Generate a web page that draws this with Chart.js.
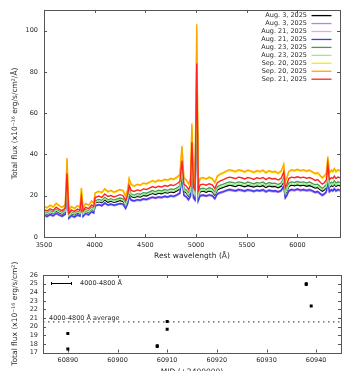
<!DOCTYPE html>
<html>
<head>
<meta charset="utf-8">
<script src="https://cdn.jsdelivr.net/npm/chart.js@4.4.1/dist/chart.umd.min.js"></script>
<style>
  html, body { margin: 0; padding: 0; background: #fff; overflow: hidden; }
  #wrap { position: relative; width: 359px; height: 371px; overflow: hidden; }
  #spec { position: absolute; left: 0; top: 0; }
  #phot { position: absolute; left: 0; top: 262px; }
</style>
</head>
<body>
<div id="wrap">
  <canvas id="spec" width="359" height="262"></canvas>
  <canvas id="phot" width="359" height="120"></canvas>
</div>
<script>
// ---- spectra (rest wavelength in Angstrom, flux in 1e-16 erg/s/cm2/A) ----
const wavelength = [3500,3530,3560,3590,3620,3650,3680,3710,3727,3745, 3770,3800,3830,3855,3869,3885,3910,3940,3970,3990,
  4005,4040,4070,4100,4130,4160,4190,4220,4250,4280, 4305,4325,4340,4360,4390,4420,4450,4480,4510,4540,
  4570,4600,4630,4660,4690,4720,4750,4780,4810,4840, 4861,4880,4905,4925,4945,4959,4975,4990,5007,5022,
  5040,5070,5100,5130,5160,5185,5210,5240,5270,5300, 5330,5360,5390,5420,5450,5480,5510,5540,5570,5600,
  5630,5660,5690,5720,5750,5780,5810,5840,5865,5880, 5895,5915,5940,5970,6000,6030,6060,6090,6120,6150,
  6175,6200,6225,6245,6265,6285,6300,6315,6335,6350, 6364,6380,6400,6420];

const fluxAug3a = [11.6,10.9,11.9,11.2,12.6,11.7,11.1,12.2,27.0,10.0, 11.4,10.7,11.7,11.2,17.0,10.9,12.5,11.9,13.5,12.8,
  16.5,17.1,16.6,18.0,16.9,17.4,16.8,17.2,17.7,17.3, 15.2,17.7,21.6,19.6,19.1,19.7,19.4,20.2,19.9,20.5,
  21.1,20.6,21.3,20.9,21.6,21.3,21.9,21.6,22.3,23.3, 32.5,22.2,21.3,19.9,21.7,40.0,20.8,19.7,74.0,19.4,
  21.9,22.2,21.7,22.3,21.9,20.3,22.8,23.6,24.0,24.6, 25.1,24.8,24.5,25.1,24.8,24.3,24.9,24.6,24.2,24.8,
  24.5,24.9,24.0,24.8,24.3,24.5,23.9,24.6,27.0,20.8, 22.0,24.5,25.1,24.8,25.3,24.8,25.1,24.6,24.9,24.3,
  23.7,24.0,22.9,22.2,22.8,23.9,29.5,24.0,24.9,24.5, 25.6,24.5,25.1,24.8];
const fluxAug3b = [10.3,9.7,10.6,10.0,11.2,10.4,9.8,10.8,24.0,8.8, 10.1,9.4,10.4,9.9,15.0,9.7,11.1,10.5,12.0,11.4,
  14.8,15.4,14.9,16.1,15.2,15.6,15.1,15.5,15.9,15.6, 13.6,15.9,19.3,17.6,17.2,17.7,17.5,18.1,17.9,18.4,
  19.0,18.6,19.1,18.8,19.4,19.1,19.7,19.4,20.1,20.9, 29.0,20.0,19.1,17.8,19.5,36.0,18.7,17.7,66.0,17.4,
  19.7,20.0,19.6,20.1,19.7,18.3,20.5,21.2,21.6,22.2, 22.6,22.3,22.0,22.6,22.3,21.9,22.5,22.2,21.8,22.3,
  22.0,22.5,21.6,22.3,21.9,22.0,21.5,22.2,24.3,18.7, 19.8,22.0,22.6,22.3,22.8,22.3,22.6,22.2,22.5,21.9,
  21.3,21.6,20.6,19.9,20.5,21.5,26.8,21.6,22.5,22.0, 23.0,22.0,22.6,22.3];
const fluxAug21a = [10.7,10.2,11.1,10.4,11.7,10.9,10.3,11.3,25.0,9.3, 10.6,9.9,10.9,10.4,15.8,10.2,11.6,11.0,12.5,11.9,
  15.3,15.9,15.4,16.7,15.7,16.2,15.6,16.0,16.4,16.1, 14.2,16.4,20.0,18.2,17.7,18.3,18.0,18.7,18.4,19.0,
  19.6,19.2,19.7,19.4,20.0,19.7,20.3,20.0,20.7,21.6, 30.0,20.6,19.7,18.4,20.2,37.0,19.3,18.3,68.0,18.0,
  20.3,20.6,20.2,20.7,20.3,18.9,21.2,21.9,22.3,22.9, 23.3,23.0,22.7,23.3,23.0,22.6,23.2,22.9,22.5,23.0,
  22.7,23.2,22.3,23.0,22.6,22.7,22.2,22.9,25.0,19.3, 20.4,22.7,23.3,23.0,23.5,23.0,23.3,22.9,23.2,22.6,
  22.0,22.3,21.3,20.6,21.2,22.2,27.5,22.3,23.2,22.7, 23.7,22.7,23.3,23.0];
const fluxAug21b = [10.6,10.0,10.9,10.3,11.5,10.7,10.1,11.1,24.6,9.1, 10.4,9.7,10.7,10.2,15.5,10.0,11.4,10.8,12.3,11.7,
  15.1,15.7,15.2,16.5,15.5,16.0,15.4,15.8,16.2,15.9, 13.9,16.2,19.7,17.9,17.5,18.1,17.8,18.5,18.2,18.8,
  19.3,18.9,19.4,19.2,19.7,19.4,20.0,19.7,20.4,21.3, 29.5,20.3,19.4,18.1,19.9,36.5,19.0,18.0,67.0,17.7,
  20.0,20.3,19.9,20.4,20.0,18.6,20.9,21.6,22.0,22.6, 23.0,22.7,22.4,23.0,22.7,22.3,22.9,22.6,22.2,22.7,
  22.4,22.9,22.0,22.7,22.3,22.4,21.9,22.6,24.7,19.0, 20.1,22.4,23.0,22.7,23.2,22.7,23.0,22.6,22.9,22.3,
  21.7,22.0,21.0,20.3,20.9,21.9,27.2,22.0,22.9,22.4, 23.4,22.4,23.0,22.7];
const fluxAug23a = [12.3,11.6,12.7,12.0,13.4,12.5,11.8,13.0,28.0,10.7, 12.1,11.4,12.5,11.9,18.0,11.6,13.3,12.6,14.4,13.6,
  17.5,18.2,17.7,19.2,18.0,18.5,17.9,18.4,18.9,18.5, 16.2,18.9,23.0,20.8,20.3,21.0,20.7,21.5,21.2,21.8,
  22.5,22.0,22.6,22.3,23.0,22.6,23.3,23.0,23.8,24.8, 34.0,23.6,22.6,21.2,23.1,42.0,22.1,21.0,78.0,20.7,
  23.3,23.6,23.1,23.8,23.3,21.6,24.3,25.1,25.6,26.2, 26.7,26.4,26.1,26.7,26.4,25.9,26.6,26.2,25.7,26.4,
  26.1,26.6,25.6,26.4,25.9,26.1,25.4,26.2,28.6,22.1, 23.5,26.1,26.7,26.4,26.9,26.4,26.7,26.2,26.6,25.9,
  25.3,25.6,24.4,23.6,24.3,25.4,31.0,25.6,26.6,26.1, 27.2,26.1,26.7,26.4];
const fluxAug23b = [11.9,11.2,12.2,11.5,13.0,12.0,11.4,12.5,27.5,10.3, 11.7,11.0,12.0,11.5,17.4,11.2,12.8,12.2,13.8,13.1,
  16.9,17.5,17.1,18.5,17.4,17.9,17.2,17.7,18.2,17.8, 15.6,18.2,22.2,20.1,19.6,20.2,19.9,20.7,20.4,21.0,
  21.6,21.2,21.8,21.5,22.1,21.8,22.4,22.1,22.9,23.9, 33.0,22.8,21.8,20.4,22.3,41.0,21.3,20.2,76.0,19.9,
  22.4,22.8,22.3,22.9,22.4,20.9,23.4,24.2,24.6,25.3, 25.8,25.4,25.1,25.8,25.4,25.0,25.6,25.3,24.8,25.4,
  25.1,25.6,24.6,25.4,25.0,25.1,24.5,25.3,27.8,21.3, 22.6,25.1,25.8,25.4,25.9,25.4,25.8,25.3,25.6,25.0,
  24.3,24.6,23.5,22.8,23.4,24.5,30.2,24.6,25.6,25.1, 26.2,25.1,25.8,25.4];
const fluxSep20a = [14.8,14.0,15.2,14.4,16.1,15.0,14.2,15.6,37.5,12.8, 14.6,13.7,15.0,14.3,23.3,14.0,16.0,15.2,17.2,16.4,
  21.1,21.9,21.3,23.1,21.7,22.3,21.5,22.1,22.7,22.2, 19.5,22.7,28.0,25.1,24.5,25.3,24.9,25.9,25.5,26.3,
  27.0,26.5,27.2,26.9,27.6,27.3,28.0,27.7,28.6,29.8, 43.0,28.4,27.3,25.5,27.8,53.5,26.7,25.3,100.0,24.9,
  28.0,28.4,27.9,28.6,28.1,26.1,29.2,30.2,30.8,31.6, 32.2,31.8,31.4,32.2,31.8,31.2,32.0,31.6,31.0,31.8,
  31.4,32.0,30.8,31.8,31.2,31.4,30.6,31.6,34.7,26.7, 28.2,31.4,32.2,31.8,32.4,31.8,32.2,31.6,32.0,31.2,
  30.4,30.8,29.4,28.4,29.2,30.6,38.4,30.8,32.0,31.4, 32.8,31.4,32.2,31.8];
const fluxSep20b = [15.0,14.2,15.5,14.6,16.4,15.2,14.4,15.8,38.3,13.0, 14.8,13.9,15.2,14.5,23.8,14.2,16.2,15.4,17.5,16.6,
  21.4,22.2,21.6,23.4,22.0,22.6,21.8,22.4,23.0,22.5, 19.8,23.0,28.4,25.4,24.8,25.6,25.2,26.2,25.8,26.6,
  27.4,26.8,27.6,27.2,28.0,27.6,28.4,28.0,29.0,30.2, 44.0,28.8,27.6,25.8,28.2,55.0,27.0,25.6,103.0,25.2,
  28.4,28.8,28.2,29.0,28.4,26.4,29.6,30.6,31.2,32.0, 32.6,32.2,31.8,32.6,32.2,31.6,32.4,32.0,31.4,32.2,
  31.8,32.4,31.2,32.2,31.6,31.8,31.0,32.0,35.2,27.0, 28.6,31.8,32.6,32.2,32.8,32.2,32.6,32.0,32.4,31.6,
  30.8,31.2,29.8,28.8,29.6,31.0,39.0,31.2,32.4,31.8, 33.2,31.8,32.6,32.2];
const fluxSep21 = [13.2,12.6,13.7,12.9,14.4,13.4,12.8,14.0,30.8,11.5, 13.1,12.4,13.5,12.9,19.2,12.6,14.4,13.7,15.5,14.8,
  19.1,19.8,19.2,20.8,19.6,20.1,19.4,19.9,20.5,20.0, 17.6,20.5,25.0,22.6,22.1,22.8,22.4,23.3,23.0,23.7,
  24.4,23.9,24.6,24.2,24.9,24.6,25.3,24.9,25.8,26.9, 37.0,25.6,24.6,23.0,25.1,46.0,24.0,22.8,84.0,22.4,
  25.3,25.6,25.1,25.8,25.3,23.5,26.3,27.2,27.8,28.5, 29.0,28.7,28.3,29.0,28.7,28.1,28.8,28.5,27.9,28.7,
  28.3,28.8,27.8,28.7,28.1,28.3,27.6,28.5,31.5,24.0, 25.5,28.3,29.0,28.7,29.2,28.7,29.0,28.5,28.8,28.1,
  27.4,27.8,26.5,25.6,26.3,27.6,35.0,27.8,28.8,28.3, 29.5,28.3,29.0,28.7];

const specLabels = ['Aug. 3, 2025', 'Aug. 3, 2025', 'Aug. 21, 2025', 'Aug. 21, 2025', 'Aug. 23, 2025',
                    'Aug. 23, 2025', 'Sep. 20, 2025', 'Sep. 20, 2025', 'Sep. 21, 2025'];
const specFluxes = [fluxAug3a, fluxAug3b, fluxAug21a, fluxAug21b, fluxAug23a, fluxAug23b, fluxSep20a, fluxSep20b, fluxSep21];
const specXTicks = [3500, 4000, 4500, 5000, 5500, 6000];
const specYTicks = [0, 20, 40, 60, 80, 100];

// ---- 4000-4800 A integrated flux vs MJD ----
const mjd = [60890, 60890, 60908, 60908, 60910, 60910, 60938, 60938, 60939];
const bandFlux = [19.2, 17.4, 17.8, 17.7, 20.6, 19.7, 25.0, 24.9, 22.4];
const bandErr = [0.12, 0.15, 0.12, 0.12, 0.1, 0.1, 0.15, 0.12, 0.1];
const bandAverage = 20.55;
const photXTicks = [60890, 60900, 60910, 60920, 60930, 60940];
const photYTicks = [17, 18, 19, 20, 21, 22, 23, 24, 25, 26];

const specColors = ['#000000', '#a987ec', '#e9a3e6', '#3b3bf2', '#4f9a4f', '#96ec96', '#f2ee00', '#ffa500', '#ff2222'];
const FONT = 'DejaVu Sans';
const TXT = '#2a2a2a';
const AXIS = '#555555';

// cadre + graduations vers l'interieur sur les 4 cotes (style gnuplot)
const framePlugin = {
  id: 'frame',
  afterDatasetsDraw(chart) {
    const { ctx, chartArea: a, scales } = chart;
    const L = 3;
    ctx.save();
    ctx.strokeStyle = AXIS;
    ctx.lineWidth = 1;
    ctx.strokeRect(Math.round(a.left) + 0.5, Math.round(a.top) + 0.5,
                   Math.round(a.right - a.left), Math.round(a.bottom - a.top));
    ctx.beginPath();
    scales.x.ticks.forEach(t => {
      const px = Math.round(scales.x.getPixelForValue(t.value)) + 0.5;
      ctx.moveTo(px, a.bottom); ctx.lineTo(px, a.bottom - L);
      ctx.moveTo(px, a.top); ctx.lineTo(px, a.top + L);
    });
    scales.y.ticks.forEach(t => {
      const py = Math.round(scales.y.getPixelForValue(t.value)) + 0.5;
      ctx.moveTo(a.left, py); ctx.lineTo(a.left + L, py);
      ctx.moveTo(a.right, py); ctx.lineTo(a.right - L, py);
    });
    ctx.stroke();
    ctx.restore();
  }
};

// legende en haut a droite : texte aligne a droite puis echantillon de trait
const specKey = {
  id: 'specKey',
  afterDatasetsDraw(chart) {
    const { ctx, chartArea: a } = chart;
    ctx.save();
    ctx.font = '6.5px "' + FONT + '"';
    ctx.textAlign = 'right';
    ctx.textBaseline = 'middle';
    chart.data.datasets.forEach((ds, i) => {
      const y = a.top + 5.7 + i * 7.95;
      ctx.fillStyle = TXT;
      ctx.fillText(ds.label, a.right - 33, y);
      ctx.strokeStyle = ds.borderColor;
      ctx.lineWidth = 1.3;
      ctx.beginPath();
      ctx.moveTo(a.right - 28.5, y);
      ctx.lineTo(a.right - 8.5, y);
      ctx.stroke();
    });
    ctx.restore();
  }
};

// barres d'erreur, cle et libelle de la moyenne
const photExtras = {
  id: 'photExtras',
  afterDatasetsDraw(chart) {
    const { ctx, chartArea: a, scales: { x, y } } = chart;
    ctx.save();
    ctx.strokeStyle = '#000';
    ctx.lineWidth = 1;
    ctx.beginPath();
    mjd.forEach((m, i) => {
      const px = Math.round(x.getPixelForValue(m)) + 0.5;
      ctx.moveTo(px, y.getPixelForValue(bandFlux[i] - bandErr[i]));
      ctx.lineTo(px, y.getPixelForValue(bandFlux[i] + bandErr[i]));
    });
    // echantillon de la cle
    const ky = Math.round(a.top + 8) + 0.5;
    ctx.moveTo(a.left + 8, ky); ctx.lineTo(a.left + 29, ky);
    ctx.moveTo(a.left + 8.5, ky - 1.5); ctx.lineTo(a.left + 8.5, ky + 1.5);
    ctx.moveTo(a.left + 28.5, ky - 1.5); ctx.lineTo(a.left + 28.5, ky + 1.5);
    ctx.stroke();
    ctx.font = '6.5px "' + FONT + '"';
    ctx.fillStyle = TXT;
    ctx.textAlign = 'left';
    ctx.textBaseline = 'middle';
    ctx.fillText('4000-4800 Å', a.left + 37, ky);
    ctx.fillText('4000-4800 Å average', a.left + 6, y.getPixelForValue(bandAverage) - 4);
    ctx.restore();
  }
};

const tickFont = { family: FONT, size: 6.5 };
const titleFont = { family: FONT, size: 7.5 };

new Chart(document.getElementById('spec'), {
  type: 'line',
  data: {
    datasets: specLabels.map((lab, i) => ({
      label: lab,
      data: wavelength.map((w, j) => ({ x: w, y: specFluxes[i][j] })),
      borderColor: specColors[i],
      borderWidth: 1.4,
      pointRadius: 0,
      tension: 0,
      order: specLabels.length - i
    }))
  },
  options: {
    responsive: false,
    animation: false,
    devicePixelRatio: 1,
    layout: { padding: { left: 0, right: 19, top: 1, bottom: 0 }, autoPadding: false },
    plugins: { legend: { display: false }, tooltip: { enabled: false } },
    scales: {
      x: {
        type: 'linear', min: 3500, max: 6420,
        afterBuildTicks: s => { s.ticks = specXTicks.map(v => ({ value: v })); },
        afterFit: s => { s.height = 25; },
        grid: { display: false, drawTicks: false },
        border: { display: false },
        ticks: { font: tickFont, color: TXT, padding: 4.5, maxRotation: 0, autoSkip: false, callback: v => String(v) },
        title: { display: true, text: 'Rest wavelength (Å)', font: titleFont, color: TXT, padding: { top: 0, bottom: 1 } }
      },
      y: {
        min: 0, max: 110,
        afterBuildTicks: s => { s.ticks = specYTicks.map(v => ({ value: v })); },
        afterFit: s => { s.width = 44; },
        grid: { display: false, drawTicks: false },
        border: { display: false },
        ticks: { font: tickFont, color: TXT, padding: 6, autoSkip: false, callback: v => String(v) },
        title: { display: true, text: 'Total flux (x10⁻¹⁶ erg/s/cm²/Å)', font: titleFont, color: TXT, padding: { top: 10.5, bottom: 0 } }
      }
    }
  },
  plugins: [framePlugin, specKey]
});

new Chart(document.getElementById('phot'), {
  type: 'scatter',
  data: {
    datasets: [
      {
        label: '4000-4800 Å',
        data: mjd.map((m, i) => ({ x: m, y: bandFlux[i] })),
        pointStyle: 'rect', pointRadius: 2.1,
        backgroundColor: '#000', borderColor: '#000', borderWidth: 0
      },
      {
        label: '4000-4800 Å average',
        data: [{ x: 60885, y: bandAverage }, { x: 60945, y: bandAverage }],
        showLine: true, pointRadius: 0,
        borderColor: '#555', borderWidth: 1.3, borderDash: [1.5, 3.5]
      }
    ]
  },
  options: {
    responsive: false,
    animation: false,
    devicePixelRatio: 1,
    layout: { padding: { left: 0, right: 18, top: 13, bottom: 0 }, autoPadding: false },
    plugins: { legend: { display: false }, tooltip: { enabled: false } },
    scales: {
      x: {
        type: 'linear', min: 60885, max: 60945,
        afterBuildTicks: s => { s.ticks = photXTicks.map(v => ({ value: v })); },
        afterFit: s => { s.height = 29.5; },
        grid: { display: false, drawTicks: false },
        border: { display: false },
        ticks: { font: tickFont, color: TXT, padding: 4, maxRotation: 0, autoSkip: false, callback: v => String(v) },
        title: { display: true, text: 'MJD (+2400000)', font: titleFont, color: TXT, padding: { top: 0, bottom: 5.5 } }
      },
      y: {
        min: 17, max: 26,
        afterBuildTicks: s => { s.ticks = photYTicks.map(v => ({ value: v })); },
        afterFit: s => { s.width = 43; },
        grid: { display: false, drawTicks: false },
        border: { display: false },
        ticks: { font: tickFont, color: TXT, padding: 5, autoSkip: false, callback: v => String(v) },
        title: { display: true, text: 'Total flux (x10⁻¹⁶ erg/s/cm²)', font: titleFont, color: TXT, padding: { top: 10.5, bottom: 0 } }
      }
    }
  },
  plugins: [framePlugin, photExtras]
});
</script>
</body>
</html>
